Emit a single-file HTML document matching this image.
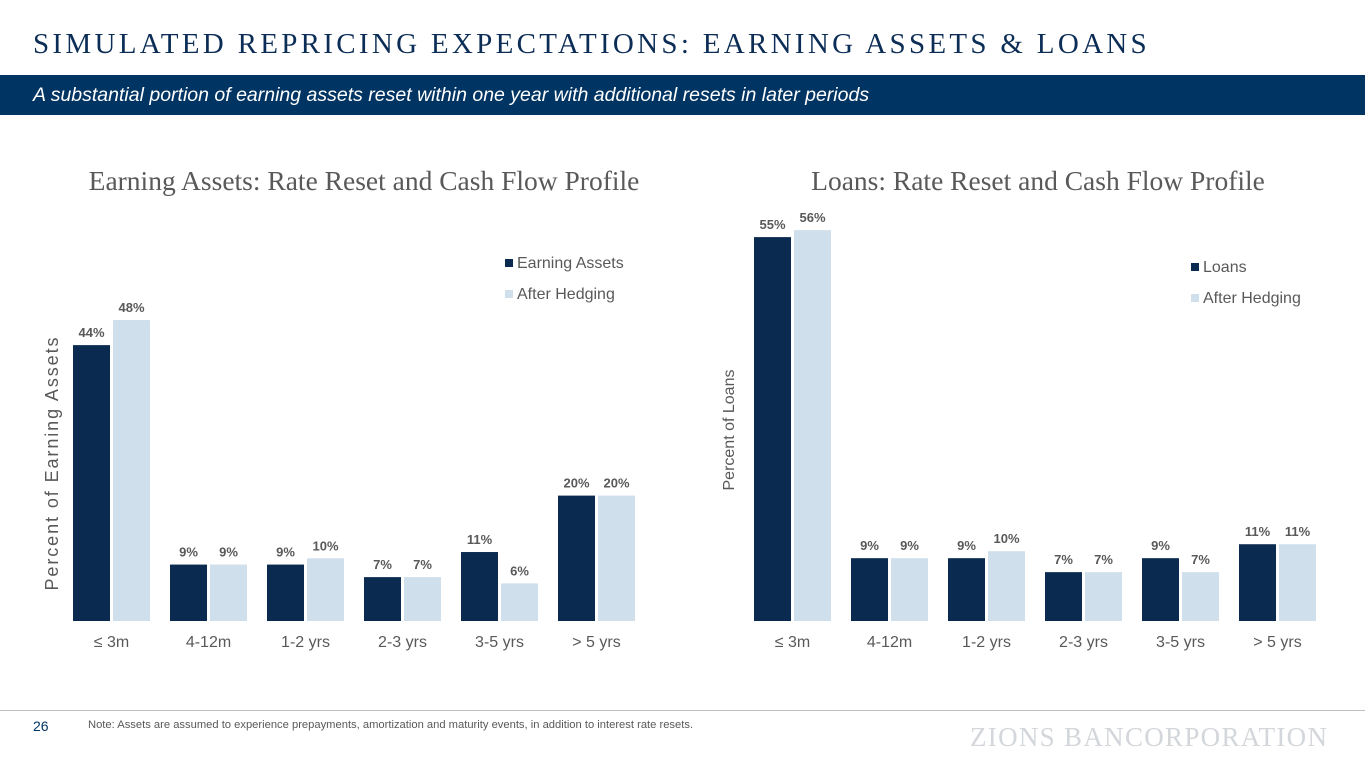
<!DOCTYPE html>
<html><head><meta charset="utf-8">
<style>
body{margin:0;width:1365px;height:768px;background:#fff;position:relative;overflow:hidden;font-family:"Liberation Sans",sans-serif}
.abs{position:absolute}
</style></head>
<body>
<div class="abs" style="left:33px;top:28px;font-family:'Liberation Serif',serif;font-size:29px;letter-spacing:3.3px;color:#0c2d56;white-space:nowrap">SIMULATED REPRICING EXPECTATIONS: EARNING ASSETS &amp; LOANS</div>
<div class="abs" style="left:0;top:75px;width:1365px;height:40px;background:#003462"></div>
<div class="abs" style="left:33px;top:84px;font-size:19.5px;font-style:italic;color:#fff;white-space:nowrap">A substantial portion of earning assets reset within one year with additional resets in later periods</div>
<svg class="abs" style="left:0;top:0" width="1365" height="768" id="chart"></svg>
<div class="abs" style="left:0;top:710px;width:1365px;height:1px;background:#bfbfbf"></div>
<div class="abs" style="left:33px;top:718px;font-size:14px;color:#003462">26</div>
<div class="abs" style="left:88px;top:719px;font-size:11.2px;color:#595959;white-space:nowrap">Note: Assets are assumed to experience prepayments, amortization and maturity events, in addition to interest rate resets.</div>
<div class="abs" style="left:970px;top:722px;font-family:'Liberation Serif',serif;font-size:27px;letter-spacing:1.3px;color:#d3d6da;white-space:nowrap">ZIONS BANCORPORATION</div>
<script>
const categories=["≤ 3m","4-12m","1-2 yrs","2-3 yrs","3-5 yrs","> 5 yrs"];
const earningAssets=[44,9,9,7,11,20];
const earningHedged=[48,9,10,7,6,20];
const loans=[55,9,9,7,9,11];
const loansHedged=[56,9,10,7,7,11];
const NS="http://www.w3.org/2000/svg";
const svg=document.getElementById('chart');
function mk(tag,attrs,text){const e=document.createElementNS(NS,tag);for(const k in attrs)e.setAttribute(k,attrs[k]);if(text!==undefined)e.textContent=text;svg.appendChild(e);return e;}
function draw(cfg){
  const base=621,step=97,bw=37;
  const y=v=>base-v*cfg.scale;
  categories.forEach((c,i)=>{
    const x0=cfg.x0+i*step;
    [[cfg.a,'#0a2b4f',x0],[cfg.b,'#cfdfec',x0+bw+3]].forEach(([arr,col,x],j)=>{
      const r=mk('rect',{x:x,y:y(arr[i]),width:bw,height:arr[i]*cfg.scale,fill:col});
      
      
      const t=mk('text',{x:x+bw/2,y:y(arr[i])-8,'text-anchor':'middle','font-size':'13','font-weight':'bold',fill:'#595959'},arr[i]+'%');
      
      
    });
    const l=mk('text',{x:x0+bw+1.5,y:647,'text-anchor':'middle','font-size':'16',fill:'#595959'},c);
    
    
  });
  const tt=mk('text',{x:cfg.tx,y:190,'text-anchor':'middle','font-size':'27.5','font-family':'Liberation Serif,serif',fill:'#595959'},cfg.title);
  
  
  const ya={x:0,y:0,transform:`translate(${cfg.yx},${cfg.yy}) rotate(-90)`,'text-anchor':'middle','font-size':cfg.yfs||'16',fill:'#595959'};
  if(cfg.ylen){ya.textLength=cfg.ylen;ya.lengthAdjust='spacing';}
  const yt=mk('text',ya,cfg.ylabel);
  
  
  [[cfg.la,'#0a2b4f',0],['After Hedging','#cfdfec',31]].forEach(([n,col,dy])=>{
    const s=mk('rect',{x:cfg.lx,y:cfg.ly+dy-9,width:8,height:8,fill:col});
    
    
    const t=mk('text',{x:cfg.lx+12,y:cfg.ly+dy,'font-size':'16',fill:'#595959'},n);
    
    
  });
}
draw({id:'earning',x0:73,scale:6.27,a:earningAssets,b:earningHedged,title:'Earning Assets: Rate Reset and Cash Flow Profile',tx:364,ylabel:'Percent of Earning Assets',yx:58,yy:464,ylen:253,yfs:'18',la:'Earning Assets',lx:505,ly:268});
draw({id:'loans',x0:754,scale:6.98,a:loans,b:loansHedged,title:'Loans: Rate Reset and Cash Flow Profile',tx:1038,ylabel:'Percent of Loans',yx:734,yy:430,la:'Loans',lx:1191,ly:272});
</script>
</body></html>
